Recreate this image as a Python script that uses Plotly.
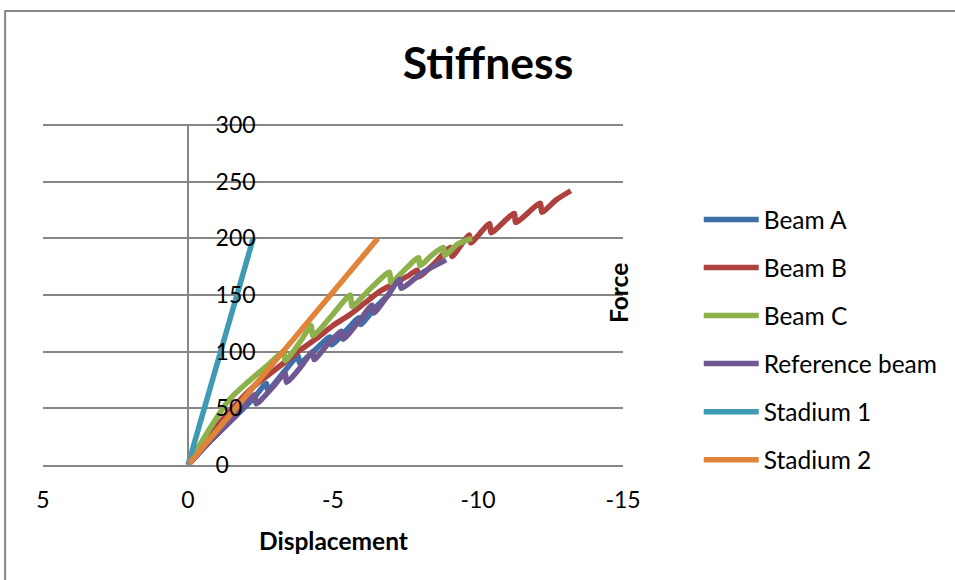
import plotly.graph_objects as go

# Force-displacement readings for each beam (displacement in mm, force in kN)
beam_a_disp = [0, -0.8, -1.6, -2.3, -2.7, -2.75, -3.3, -3.8, -3.85, -4.4, -4.9, -4.95,
               -5.5, -5.9, -5.95, -6.5, -7.0]
beam_a_force = [0, 22, 42, 60, 72, 66, 82, 96, 90, 102, 113, 106, 120, 130, 124, 140, 152]

beam_b_disp = [0, -0.8, -1.6, -2.3, -2.8, -3.4, -3.9, -4.5, -5.0, -5.6, -6.1, -6.6, -7.1,
               -7.6, -7.9, -7.95, -8.5, -9.05, -9.1, -9.7, -9.75, -10.4, -10.45, -11.25,
               -11.3, -12.15, -12.2, -12.7, -13.2]
beam_b_force = [0, 28, 52, 70, 80, 92, 102, 113, 123, 133, 143, 153, 160, 167, 172, 166,
                178, 192, 184, 203, 196, 213, 205, 222, 214, 231, 223, 234, 242]

beam_c_disp = [0, -0.7, -1.4, -2.1, -2.7, -3.3, -3.35, -3.9, -4.25, -4.3, -4.9, -5.6,
               -5.65, -6.3, -6.95, -7.0, -7.5, -7.95, -8.0, -8.4, -8.8, -8.85, -9.3, -9.8]
beam_c_force = [0, 30, 57, 74, 87, 100, 92, 110, 123, 114, 130, 150, 140, 156, 170, 161,
                173, 183, 176, 185, 192, 185, 195, 200]

ref_disp = [0, -0.8, -1.6, -2.3, -2.35, -2.9, -3.35, -3.4, -3.9, -4.3, -4.35, -4.8, -5.3,
            -5.35, -5.9, -6.35, -6.4, -6.9, -7.3, -7.35, -8.1, -8.9]
ref_force = [0, 22, 42, 62, 54, 68, 81, 73, 87, 100, 93, 106, 118, 111, 127, 141, 134,
             150, 164, 156, 170, 181]

stadium1_disp = [0, -2.25]
stadium1_force = [0, 200]

stadium2_disp = [0, -6.55]
stadium2_force = [0, 200]

series_names = ["Beam A", "Beam B", "Beam C", "Reference beam", "Stadium 1", "Stadium 2"]
series_disp = [beam_a_disp, beam_b_disp, beam_c_disp, ref_disp, stadium1_disp, stadium2_disp]
series_force = [beam_a_force, beam_b_force, beam_c_force, ref_force, stadium1_force, stadium2_force]

x_ticks = [5, 0, -5, -10, -15]
x_tick_labels = ["5", "0", "-5", "-10", "-15"]
y_ticks = [0, 50, 100, 150, 200, 250, 300]

colors = ["#3F6EA8", "#AC413E", "#8DB24C", "#6F5792", "#3F9BB5", "#E0843A"]
grid = "#868686"
FONT = "Lato"

fig = go.Figure()
for name, xs, ys, col in zip(series_names, series_disp, series_force, colors):
    fig.add_trace(go.Scatter(
        x=xs, y=ys, name=name, legendgroup=name, mode="lines",
        line=dict(color=col, width=5.5, shape="spline", smoothing=0.7),
    ))

W, H = 955, 580
L, R, T, B = 43, 330, 124, 115
pw, ph = W - L - R, H - T - B
Y_TOP = 300.9  # small headroom so the 300 gridline is kept


def px_x(p):
    return (p - L) / pw


def px_y(p):
    return (H - B - p) / ph


fig.update_layout(
    width=W, height=H, autosize=False,
    margin=dict(l=L, r=R, t=T, b=B),
    paper_bgcolor="white", plot_bgcolor="white",
    font=dict(family=FONT, color="black", size=22),
    title=dict(text="<b>Stiffness</b>", font=dict(family=FONT, size=44.5, color="black"),
               x=488 / W, xref="container", xanchor="center",
               y=1 - 63 / H, yref="container", yanchor="middle"),
    xaxis=dict(range=[5, -15], tickvals=x_ticks, ticktext=x_tick_labels,
               showgrid=False, zeroline=False, showline=True, linecolor=grid,
               linewidth=2, ticks="", ticklabelstandoff=13,
               tickfont=dict(size=23)),
    yaxis=dict(range=[0, Y_TOP], tickvals=y_ticks, anchor="free", position=0.25,
               side="right", showline=True, linecolor=grid, linewidth=2,
               showgrid=True, gridcolor=grid, gridwidth=2, zeroline=False,
               ticks="", ticklabelstandoff=22, tickfont=dict(size=23)),
    showlegend=True,
    legend=dict(x=px_x(701), y=px_y(197), xanchor="left", yanchor="top",
                xref="paper", yref="paper",
                font=dict(size=24.5), traceorder="grouped", tracegroupgap=13.2,
                itemwidth=55, bgcolor="rgba(0,0,0,0)"),
    annotations=[
        dict(text="<b>Displacement</b>", x=px_x(334), y=px_y(540), xref="paper",
             yref="paper", showarrow=False, font=dict(size=24.5),
             xanchor="center", yanchor="middle"),
        dict(text="<b>Force</b>", x=px_x(620), y=px_y(293), xref="paper",
             yref="paper", showarrow=False, textangle=-90, font=dict(size=24.5),
             xanchor="center", yanchor="middle"),
    ],
    shapes=[
        dict(type="rect", xref="paper", yref="paper",
             x0=px_x(5), x1=px_x(990), y0=px_y(11), y1=px_y(620),
             line=dict(color=grid, width=2), fillcolor="rgba(0,0,0,0)", layer="below"),
    ],
)

fig.write_html("out.html")
